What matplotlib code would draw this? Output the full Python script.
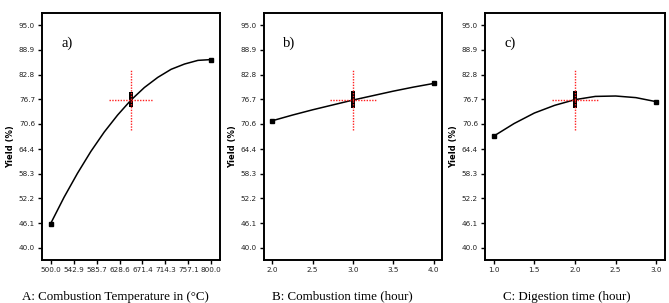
import matplotlib
matplotlib.use("Agg")
import matplotlib.pyplot as plt

# ---- data ----
y_ticks = [40.0, 46.1, 52.2, 58.3, 64.4, 70.6, 76.7, 82.8, 88.9, 95.0]

a_ticks = [500.0, 542.9, 585.7, 628.6, 671.4, 714.3, 757.1, 800.0]
a_curve_x = [500, 525, 550, 575, 600, 625, 650, 675, 700, 725, 750, 775, 800]
a_curve_y = [46.0, 52.5, 58.4, 63.8, 68.6, 72.8, 76.5, 79.6, 82.1, 84.1, 85.4, 86.3, 86.5]
a_pts_x = [500, 800]
a_pts_y = [46.0, 86.5]
a_center_x = 650
a_center_y = [75.2, 75.9, 76.6, 77.3, 78.0]

b_ticks = [2.0, 2.5, 3.0, 3.5, 4.0]
b_curve_x = [2.0, 2.25, 2.5, 2.75, 3.0, 3.25, 3.5, 3.75, 4.0]
b_curve_y = [71.4, 72.8, 74.1, 75.3, 76.5, 77.6, 78.7, 79.7, 80.6]
b_pts_x = [2.0, 4.0]
b_pts_y = [71.4, 80.6]
b_center_x = 3.0
b_center_y = [75.0, 75.8, 76.6, 77.4, 78.2]

c_ticks = [1.0, 1.5, 2.0, 2.5, 3.0]
c_curve_x = [1.0, 1.25, 1.5, 1.75, 2.0, 2.25, 2.5, 2.75, 3.0]
c_curve_y = [67.6, 70.7, 73.3, 75.2, 76.6, 77.4, 77.5, 77.1, 76.1]
c_pts_x = [1.0, 3.0]
c_pts_y = [67.6, 76.1]
c_center_x = 2.0
c_center_y = [75.0, 75.8, 76.6, 77.4, 78.2]

center_pred = 76.6
lsd_half = 7.6

panel_labels = ["a)", "b)", "c)"]
x_labels = ["A: Combustion Temperature in (\u00b0C)",
            "B: Combustion time (hour)",
            "C: Digestion time (hour)"]
y_label = "Yield (%)"

panels = [
    (a_ticks, a_curve_x, a_curve_y, a_pts_x, a_pts_y, a_center_x, a_center_y),
    (b_ticks, b_curve_x, b_curve_y, b_pts_x, b_pts_y, b_center_x, b_center_y),
    (c_ticks, c_curve_x, c_curve_y, c_pts_x, c_pts_y, c_center_x, c_center_y),
]

fig = plt.figure(figsize=(6.69, 3.03), dpi=100)
lefts = [42 / 669, 263.7 / 669, 485 / 669]
widths = [178 / 669, 178.6 / 669, 180 / 669]
xlabel_pos = [0.41, 0.441, 0.454]
bottom = 1 - 260 / 303
height = (260 - 13) / 303

for i, (ticks, cx, cy, px, py, ctx, cty) in enumerate(panels):
    ax = fig.add_axes([lefts[i], bottom, widths[i], height])
    lo, hi = ticks[0], ticks[-1]
    rng = hi - lo
    ax.set_xlim(lo - 0.054 * rng, hi + 0.054 * rng)
    ax.set_ylim(37, 98)

    ax.plot(cx, cy, color="black", lw=1.1, zorder=3)
    ax.plot(px, py, "s", color="black", ms=3.3, zorder=4)
    ax.plot([ctx] * len(cty), cty, "s", color="black", ms=3.3, mew=0,
            zorder=4)

    hw = 0.14 * rng
    ax.plot([ctx - hw, ctx + hw], [center_pred, center_pred], color="#ff2020",
            ls=(0, (1, 1)), lw=1.0, zorder=5)
    ax.plot([ctx, ctx], [center_pred - lsd_half, center_pred + lsd_half],
            color="#ff2020", ls=(0, (1, 1)), lw=1.0, zorder=5,
            antialiased=True)

    ax.set_xticks(ticks)
    ax.set_xticklabels([f"{t:.1f}" for t in ticks])
    ax.set_yticks(y_ticks)
    ax.set_yticklabels([f"{t:.1f}" for t in y_ticks])
    ax.tick_params(direction="out", length=3, width=1.0, labelsize=5.2,
                   pad=2, labelcolor="#222222")
    for s in ax.spines.values():
        s.set_linewidth(1.4)

    ax.text(0.11, 0.865, panel_labels[i], transform=ax.transAxes,
            fontsize=10.5, family="Liberation Serif")
    ax.set_ylabel(y_label, fontsize=6.0, fontweight="bold")
    ax.yaxis.set_label_coords(-0.15, 0.46)
    ax.text(xlabel_pos[i], -0.148, x_labels[i], transform=ax.transAxes,
            fontsize=9.4, family="Liberation Serif", ha="center",
            va="center")

fig.savefig("out.png", dpi=100)
